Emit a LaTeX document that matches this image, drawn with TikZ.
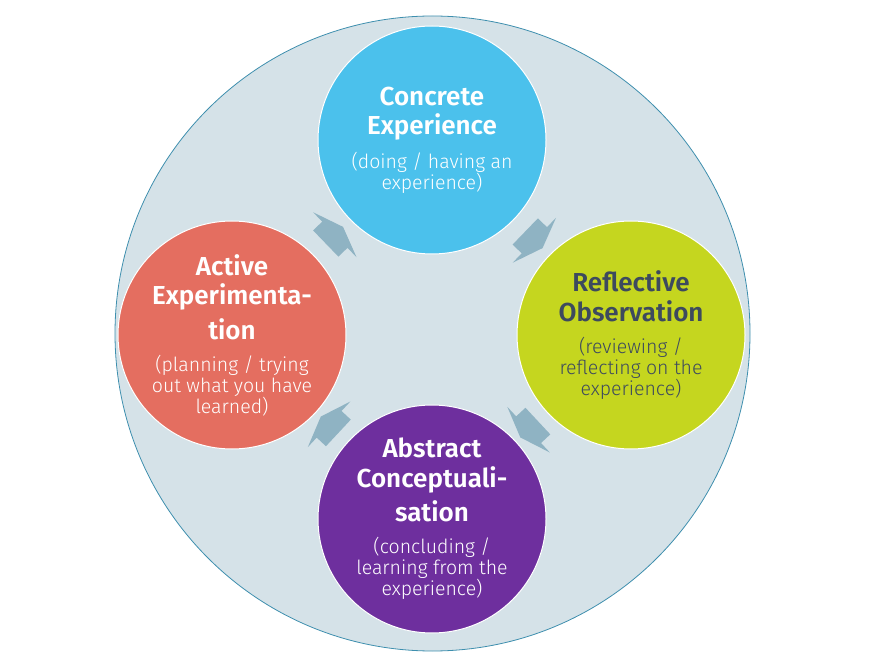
\documentclass[tikz,border=0pt]{standalone}
\usepackage{fontspec}
\setmainfont{Fira Sans}
\newfontfamily\sublight{Fira Sans Light}
\usetikzlibrary{calc,shapes.arrows}
\definecolor{ringfill}{HTML}{D5E2E8}
\definecolor{ringline}{HTML}{3E8FAE}
\definecolor{cecol}{HTML}{4BC1EC}
\definecolor{rocol}{HTML}{C5D61F}
\definecolor{rotext}{HTML}{3D4A5E}
\definecolor{accol}{HTML}{6E2F9E}
\definecolor{aecol}{HTML}{E46E60}
\definecolor{arrowcol}{HTML}{8FB3C3}
\def\stitle{\fontsize{26}{28}\selectfont\bfseries}
\def\ssub{\fontsize{19.5}{21}\selectfont\sublight}
\tikzset{
	stage/.style={circle, draw=white, line width=1pt, minimum size=228pt, inner sep=0pt, align=center, font=\ssub},
	cyclearrow/.style={single arrow, fill=arrowcol, draw=none, inner xsep=0pt, inner ysep=18pt, minimum height=24pt, single arrow head extend=13pt, single arrow tip angle=140}
}

\begin{document}
\begin{tikzpicture}[x=1pt,y=1pt]
	%%%%% START %%%%%
	\useasboundingbox (0,0) rectangle (877,667);
	
	\node[circle, draw=ringline, fill=ringfill, line width=0.8pt, minimum size=635pt] (ring) at (432.5,333.5) {};
	
	\node[stage, fill=cecol, text=white] (ce) at (432,527) {\stitle Concrete\\[7pt]\stitle Experience\\[11pt]\ssub (doing / having an\\\ssub experience)};
	\node[stage, fill=rocol, text=rotext] (ro) at (631,332) {\stitle Reflective\\[7pt]\stitle Observation\\[11pt]\ssub (reviewing /\\\ssub reflecting on the\\\ssub experience)};
	\node[stage, fill=accol, text=white] (ac) at (432,148) {\stitle Abstract\\[7pt]\stitle Conceptuali-\\[7pt]\stitle sation\\[11pt]\ssub (concluding /\\\ssub learning from the\\\ssub experience)};
	\node[stage, fill=aecol, text=white] (ae) at (232,332) {\stitle Active\\[7pt]\stitle Experimenta-\\[7pt]\stitle tion\\[11pt]\ssub (planning / trying\\\ssub out what you have\\\ssub learned)};
	
	% arrows between the stages, clockwise
	\node[cyclearrow, rotate=-44] (ce-ro) at ($(ce)!0.5!(ro)$) {};
	\node[cyclearrow, rotate=-137] (ro-ac) at ($(ro)!0.5!(ac)$) {};
	\node[cyclearrow, rotate=137] (ac-ae) at ($(ac)!0.5!(ae)$) {};
	\node[cyclearrow, rotate=44] (ae-ce) at ($(ae)!0.5!(ce)$) {};
	%%%%% END %%%%%
\end{tikzpicture}
\end{document}
